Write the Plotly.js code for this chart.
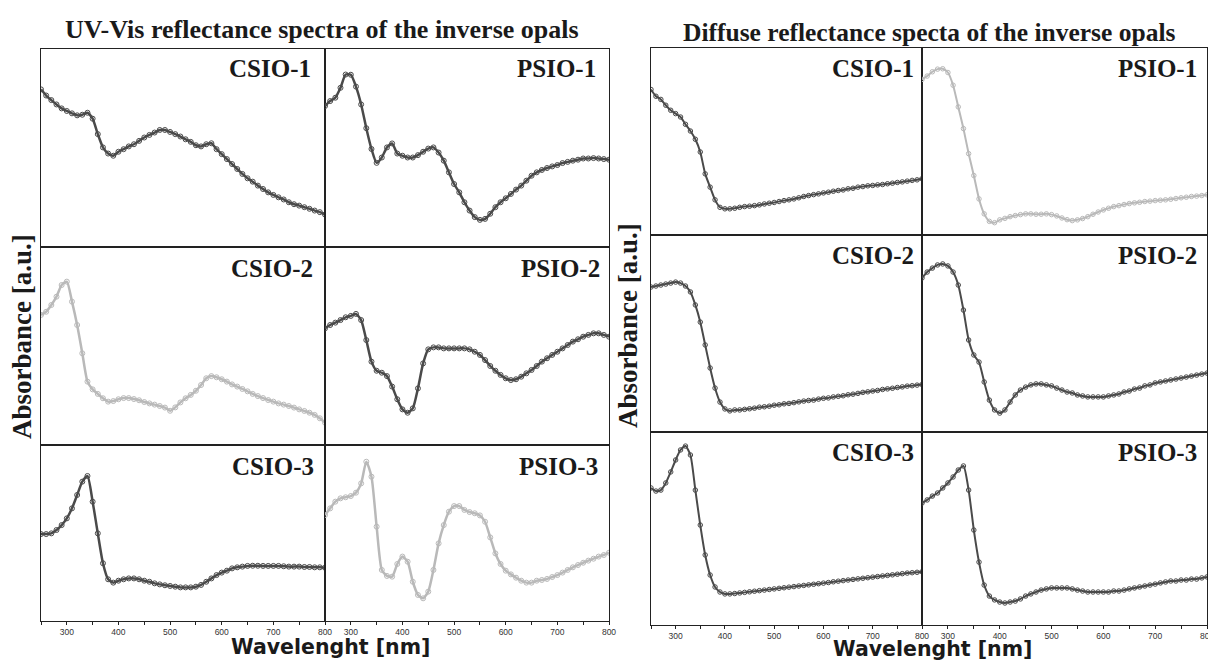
<!DOCTYPE html>
<html><head><meta charset="utf-8">
<script src="https://cdn.plot.ly/plotly-3.0.1.min.js"></script>
<style>html,body{margin:0;padding:0;background:#fff}#chart{width:1208px;height:662px}</style>
</head><body><div id="chart"></div>
<script>
// ---------- DATA (absorbance in arbitrary units) ----------
const wavelength = [250,260,270,280,290,300,310,320,330,340,350,
  360,370,380,390,400,410,420,430,440,450,
  460,470,480,490,500,510,520,530,540,550,
  560,570,580,590,600,610,620,630,640,650,
  660,670,680,690,700,710,720,730,740,750,
  760,770,780,790,800];

const sampleLabels = ["CSIO-1","PSIO-1","CSIO-2","PSIO-2","CSIO-3","PSIO-3"];
const panelTitles = ["UV-Vis reflectance spectra of the inverse opals","Diffuse reflectance specta of the inverse opals"];
const yTitle = "Absorbance [a.u.]";
const xTitle = "Wavelenght [nm]";

// UV-Vis reflectance spectra
const uvCSIO1 = [79.6,76.5,74.2,72.0,70.0,68.7,67.5,66.5,66.8,67.8,64.8,
  57.0,50.3,47.2,46.1,48.1,49.4,50.8,51.9,53.6,55.3,
  56.6,57.8,59.1,59.1,58.1,57.0,55.8,54.4,53.1,51.4,
  50.8,51.9,52.4,49.4,46.9,44.4,41.9,39.4,36.9,34.7,
  33.0,31.0,29.3,27.6,26.3,25.1,24.0,22.6,21.6,20.9,
  20.1,19.3,18.4,17.6,16.4];
const uvPSIO1 = [71.2,73.7,75.4,80.4,87.1,87.0,81.0,72.0,60.0,49.5,42.5,
  45.2,50.3,52.3,47.2,46.1,45.2,45.2,46.4,48.1,49.7,
  50.3,47.7,43.6,37.7,31.8,27.6,22.6,18.4,15.1,13.7,
  14.2,16.8,20.1,22.6,24.6,26.8,29.0,31.0,33.5,36.0,
  37.7,38.9,39.9,40.7,41.4,42.4,43.0,43.6,44.1,44.7,
  44.7,44.9,44.7,44.4,44.1];
const uvCSIO2 = [65.7,67.3,70.7,74.9,80.8,82.5,72.4,60.6,46.3,32.0,28.1,
  25.8,23.6,21.9,22.2,23.1,23.7,23.7,23.2,22.6,21.7,
  21.0,20.4,19.7,18.9,17.3,19.0,21.5,23.6,25.3,27.4,
  30.3,33.7,34.8,34.2,33.2,32.0,30.6,29.5,28.3,27.1,
  25.8,24.7,23.7,22.7,21.9,21.0,20.4,19.7,18.9,18.0,
  17.2,16.3,15.2,13.5,11.3];
const uvPSIO2 = [58.9,60.6,61.8,63.1,64.5,65.2,66.2,63.1,53.0,42.1,37.5,
  36.5,34.8,29.5,23.1,18.0,16.3,18.5,28.6,41.2,48.3,
  49.3,49.3,48.8,48.8,48.8,48.8,48.8,48.3,47.1,45.5,
  42.9,39.9,37.5,35.4,33.7,32.8,33.2,34.5,36.2,37.9,
  39.9,42.1,43.8,45.5,47.1,48.8,50.5,52.2,53.4,54.7,
  55.6,56.4,56.4,55.6,54.7];
const uvCSIO3 = [49.4,49.4,49.8,51.7,54.5,58.3,64.0,71.6,79.2,82.4,67.8,
  49.8,32.8,23.7,21.8,22.9,23.7,24.2,24.2,23.7,22.9,
  22.3,21.4,20.8,20.3,19.9,19.5,19.1,19.1,19.1,19.5,
  20.5,22.3,24.2,26.1,27.5,28.6,29.9,30.5,30.9,31.3,
  31.4,31.4,31.3,31.3,31.3,31.3,31.1,30.9,30.9,30.9,
  30.7,30.7,30.5,30.5,30.3];
const uvPSIO3 = [60.2,64.0,67.8,69.7,70.3,71.0,72.9,78.2,90.5,82.0,53.6,
  29.0,25.6,25.2,32.4,36.6,33.7,22.3,14.8,12.9,16.7,
  29.0,44.1,54.5,62.1,65.3,65.3,63.1,61.9,61.2,60.0,
  56.4,47.5,38.4,32.4,28.6,26.5,24.6,22.9,21.8,21.8,
  22.9,23.3,23.9,25.0,26.1,27.5,29.0,30.5,31.8,33.1,
  34.3,35.4,36.6,37.5,38.8];

// Diffuse reflectance spectra
const drCSIO1 = [77.8,74.2,72.5,69.4,66.7,64.9,63.1,59.2,55.6,51.2,44.4,
  32.7,25.6,18.8,14.8,14.0,14.0,14.3,14.8,15.2,15.4,
  15.7,16.1,16.6,17.0,17.4,17.9,18.4,18.8,19.3,19.9,
  20.6,21.1,21.6,22.0,22.5,22.9,23.4,23.8,24.1,24.7,
  25.0,25.6,25.9,26.3,26.5,26.8,27.0,27.4,27.7,28.1,
  28.4,28.8,29.2,29.5,30.1];
const drPSIO1 = [83.2,85.0,87.3,88.7,88.9,86.9,80.1,68.5,56.9,43.5,31.8,
  19.3,11.3,7.3,6.6,8.1,8.9,9.8,10.4,10.9,11.3,
  11.3,11.1,11.1,11.3,10.9,10.2,9.1,8.2,7.7,8.1,
  8.8,9.8,11.1,12.3,13.4,14.3,15.2,15.7,16.3,16.8,
  17.2,17.5,17.9,18.1,18.4,18.6,18.8,19.1,19.5,19.9,
  20.2,20.6,20.8,21.1,21.5];
const drCSIO2 = [73.6,74.1,74.6,75.1,75.6,76.1,75.6,74.1,71.1,64.5,55.8,
  44.2,32.5,22.3,15.2,11.7,10.7,11.2,11.2,11.5,11.8,
  12.1,12.6,12.8,13.1,13.6,13.8,14.3,14.5,14.9,15.3,
  15.7,16.0,16.2,16.7,17.1,17.3,17.8,18.1,18.4,18.9,
  19.2,19.6,20.1,20.4,20.8,21.1,21.6,21.9,22.2,22.6,
  22.9,23.3,23.5,23.8,24.1];
const drPSIO2 = [78.2,81.2,83.2,84.8,85.3,84.3,81.2,74.6,61.9,46.7,39.1,
  35.5,25.4,16.2,11.2,9.6,11.2,15.2,18.8,21.3,22.8,
  23.9,24.4,24.4,23.9,23.4,22.3,21.3,20.3,19.8,18.8,
  18.3,17.8,17.8,17.8,17.8,18.3,18.8,19.3,20.3,20.8,
  21.8,22.3,23.4,23.9,24.9,25.4,25.9,26.4,26.9,27.4,
  27.9,28.4,28.9,29.4,29.9];
const drCSIO3 = [71.0,69.4,69.9,73.6,79.3,85.5,90.7,92.7,88.1,69.9,51.8,
  36.3,25.9,19.7,17.1,16.1,16.1,16.3,16.6,16.9,17.2,
  17.5,17.8,18.1,18.4,18.7,19.0,19.3,19.6,19.9,20.2,
  20.5,20.8,21.1,21.4,21.7,22.0,22.4,22.7,23.0,23.3,
  23.6,23.9,24.2,24.5,24.8,25.1,25.4,25.7,26.0,26.3,
  26.6,26.9,27.1,27.3,27.6];
const drPSIO3 = [63.2,64.8,66.8,68.4,71.0,73.6,76.7,80.3,82.4,69.9,49.2,
  32.6,20.7,15.0,13.0,11.9,11.4,11.9,12.4,13.5,15.0,
  16.1,17.1,18.1,18.7,19.2,19.2,19.2,19.2,18.7,18.1,
  17.6,17.1,17.1,17.1,17.1,17.1,17.6,17.6,18.1,18.7,
  19.2,19.7,20.2,20.7,21.2,21.8,22.3,22.8,22.8,23.3,
  23.3,23.8,23.8,24.4,24.9];

// ---------- LAYOUT ----------
const W = 1208, H = 662;
const DARK = '#4a4a4a', LIGHT = '#b9b9b9';
const panels = [
  { cols: [[41,325],[325,609]], rows: [[49,247],[247,445],[445,621]],
    series: [uvCSIO1,uvPSIO1,uvCSIO2,uvPSIO2,uvCSIO3,uvPSIO3],
    colors: [DARK,DARK,LIGHT,DARK,DARK,LIGHT], lw: 2.5, ms: 5,
    labelX: [[313,598],[315,602],[316,600]], labelY: [69,268,466],
    title: {x:322, y:30, size:26}, ytitle: {x:22, y:337}, xtitle: {x:330, y:647} },
  { cols: [[651,922],[922,1207]], rows: [[48,235],[235,432],[432,625]],
    series: [drCSIO1,drPSIO1,drCSIO2,drPSIO2,drCSIO3,drPSIO3],
    colors: [DARK,LIGHT,DARK,DARK,DARK,DARK], lw: 2, ms: 4.5,
    labelX: [[916,1199],[916,1199],[916,1199]], labelY: [69,255,452],
    title: {x:929, y:33, size:25.5}, ytitle: {x:628, y:326}, xtitle: {x:932, y:649} }
];

const traces = [];
const layout = {
  width: W, height: H, margin: {l:0,r:0,t:0,b:0},
  paper_bgcolor: '#fff', plot_bgcolor: '#fff', showlegend: false,
  annotations: []
};
const serif = 'Liberation Serif, Times New Roman, serif';
let k = 0;
panels.forEach((p, pi) => {
  for (let r = 0; r < 3; r++) {
    for (let c = 0; c < 2; c++) {
      k++;
      const sfx = k === 1 ? '' : String(k);
      const idx = r * 2 + c;
      const col = p.colors[idx];
      traces.push({
        x: wavelength, y: p.series[idx], xaxis: 'x' + sfx, yaxis: 'y' + sfx,
        type: 'scatter', mode: 'lines+markers', hoverinfo: 'skip',
        line: {color: col, width: p.lw, shape: 'spline', smoothing: 0.6},
        marker: {symbol: 'circle-open', size: p.ms, color: col, line: {width: 1, color: col}}
      });
      const bottom = r === 2;
      layout['xaxis' + sfx] = {
        domain: [p.cols[c][0] / W, p.cols[c][1] / W], anchor: 'y' + sfx,
        range: [250, 800], showgrid: false, zeroline: false,
        showline: true, mirror: true, linecolor: '#222', linewidth: 1,
        showticklabels: bottom, ticks: bottom ? 'outside' : '',
        tick0: 300, dtick: 100, ticklen: 3, tickcolor: '#222', tickwidth: 1,
        ticklabeloverflow: 'allow',
        tickfont: {family: 'Liberation Sans, Arial, sans-serif', size: 8.5, color: '#333'},
        minor: bottom ? {ticks: 'outside', ticklen: 3, tick0: 250, dtick: 50, tickcolor: '#222', showgrid: false} : {ticks: ''}
      };
      layout['yaxis' + sfx] = {
        domain: [1 - p.rows[r][1] / H, 1 - p.rows[r][0] / H], anchor: 'x' + sfx,
        range: [0, 100], showgrid: false, zeroline: false,
        showline: true, mirror: true, linecolor: '#222', linewidth: 1,
        showticklabels: false, ticks: ''
      };
      layout.annotations.push({
        xref: 'paper', yref: 'paper', x: p.labelX[r][c] / W, y: 1 - p.labelY[r] / H,
        xanchor: 'right', yanchor: 'middle', showarrow: false, text: sampleLabels[idx],
        font: {family: serif, size: 25, weight: 700, color: '#1a1a1a'}
      });
    }
  }
  layout.annotations.push({
    xref: 'paper', yref: 'paper', x: p.title.x / W, y: 1 - p.title.y / H,
    xanchor: 'center', yanchor: 'middle', showarrow: false, text: panelTitles[pi],
    font: {family: serif, size: p.title.size, weight: 700, color: '#1a1a1a'}
  });
  layout.annotations.push({
    xref: 'paper', yref: 'paper', x: p.ytitle.x / W, y: 1 - p.ytitle.y / H,
    xanchor: 'center', yanchor: 'middle', showarrow: false, text: yTitle, textangle: -90,
    font: {family: serif, size: 27, weight: 700, color: '#1a1a1a'}
  });
  layout.annotations.push({
    xref: 'paper', yref: 'paper', x: p.xtitle.x / W, y: 1 - p.xtitle.y / H,
    xanchor: 'center', yanchor: 'middle', showarrow: false, text: xTitle,
    font: {family: 'DejaVu Sans, sans-serif', size: 20.5, weight: 700, color: '#1a1a1a'}
  });
});

Plotly.newPlot('chart', traces, layout, {staticPlot: true, displayModeBar: false});
</script>
</body></html>
